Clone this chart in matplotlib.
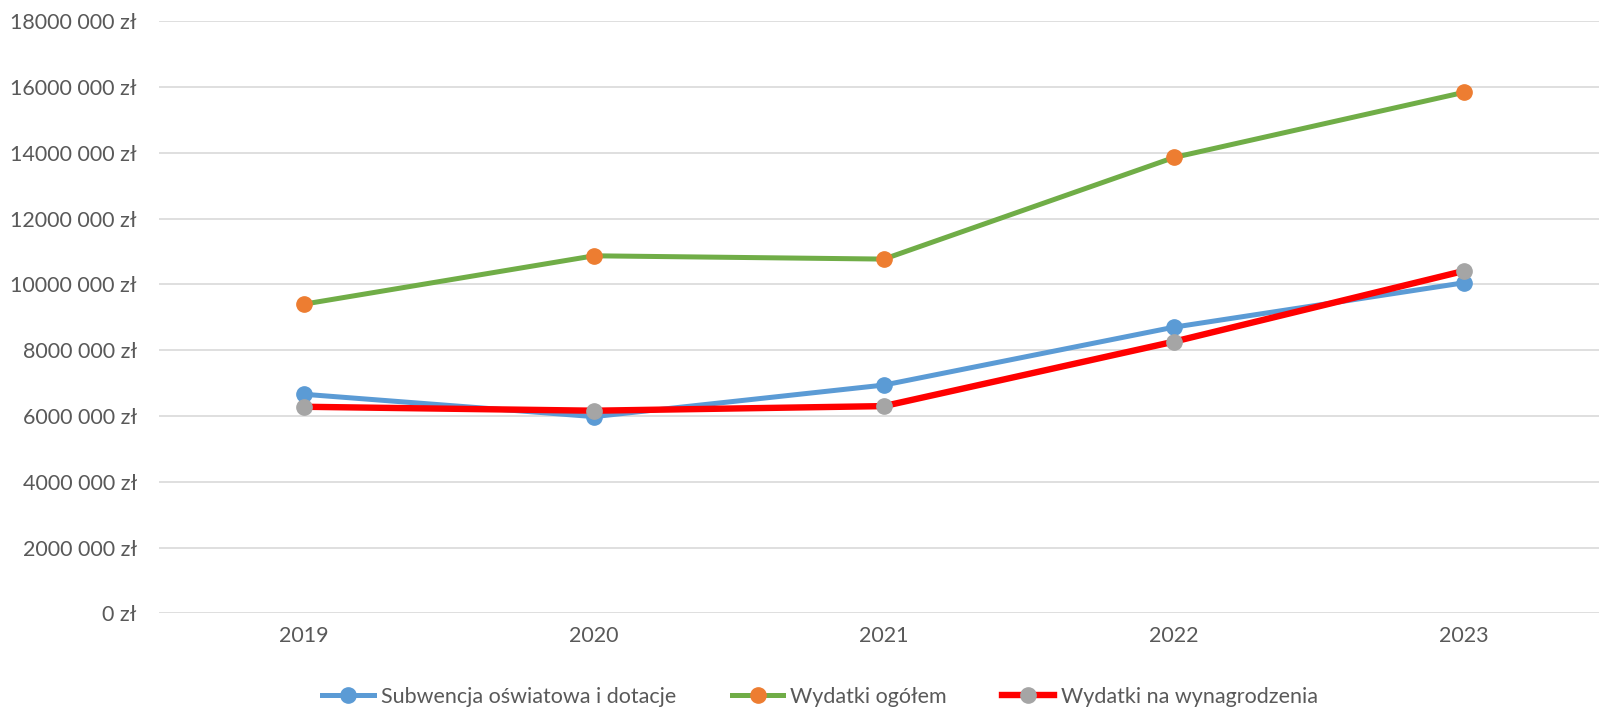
import matplotlib.pyplot as plt
from matplotlib.lines import Line2D

plt.rcParams['font.family'] = ['Lato', 'DejaVu Sans']

years = ['2019', '2020', '2021', '2022', '2023']
subwencja = [6660000, 5980000, 6940000, 8700000, 10050000]
wydatki_ogolem = [9400000, 10870000, 10770000, 13860000, 15840000]
wynagrodzenia = [6280000, 6160000, 6300000, 8260000, 10410000]

y_ticks = [0, 2000000, 4000000, 6000000, 8000000, 10000000,
           12000000, 14000000, 16000000, 18000000]
y_labels = ['0 zł', '2000 000 zł', '4000 000 zł', '6000 000 zł', '8000 000 zł',
            '10000 000 zł', '12000 000 zł', '14000 000 zł', '16000 000 zł',
            '18000 000 zł']

text_color = '#595959'
W, H = 1599, 711
fs = 15.5

fig = plt.figure(figsize=(W / 100, H / 100), dpi=100)
ax = fig.add_axes([159 / W, (H - 613.3) / H, (W - 159) / W, (613.3 - 21.3) / H])

x = list(range(len(years)))
ax.plot(x, subwencja, color='#5B9BD5', lw=3.6, marker='o', ms=11,
        mfc='#5B9BD5', mec='#5B9BD5', solid_capstyle='round', zorder=3)
ax.plot(x, wydatki_ogolem, color='#70AD47', lw=3.6, marker='o', ms=11,
        mfc='#ED7D31', mec='#ED7D31', solid_capstyle='round', zorder=3)
ax.plot(x, wynagrodzenia, color='#FF0000', lw=4.6, marker='o', ms=11,
        mfc='#A5A5A5', mec='#A5A5A5', solid_capstyle='round', zorder=4)

ax.set_xlim(-0.5, -0.5 + (W - 159) / 290)
ax.set_ylim(0, 18000000)
ax.set_xticks(x)
ax.set_xticklabels(years)
ax.set_yticks(y_ticks)
ax.set_yticklabels(y_labels)
ax.tick_params(axis='both', length=0, labelsize=fs, colors=text_color)
ax.tick_params(axis='y', pad=16)
ax.tick_params(axis='x', pad=9)
ax.grid(axis='y', color='#D9D9D9', lw=1.2)
ax.set_axisbelow(True)
for s in ax.spines.values():
    s.set_visible(False)

handles = [
    Line2D([], [], color='#5B9BD5', lw=3.6, marker='o', ms=11, mfc='#5B9BD5', mec='#5B9BD5'),
    Line2D([], [], color='#70AD47', lw=3.6, marker='o', ms=11, mfc='#ED7D31', mec='#ED7D31'),
    Line2D([], [], color='#FF0000', lw=4.6, marker='o', ms=11, mfc='#A5A5A5', mec='#A5A5A5'),
]
labels = ['Subwencja oświatowa i dotacje', 'Wydatki ogółem', 'Wydatki na wynagrodzenia']
leg = fig.legend(handles, labels, loc='center', bbox_to_anchor=(820 / W, 1 - 697 / H),
                 ncol=3, frameon=False, fontsize=fs, handlelength=2.4,
                 handletextpad=0.3, columnspacing=2.6, borderaxespad=0)
for t in leg.get_texts():
    t.set_color(text_color)

fig.savefig('out.png', dpi=100)
